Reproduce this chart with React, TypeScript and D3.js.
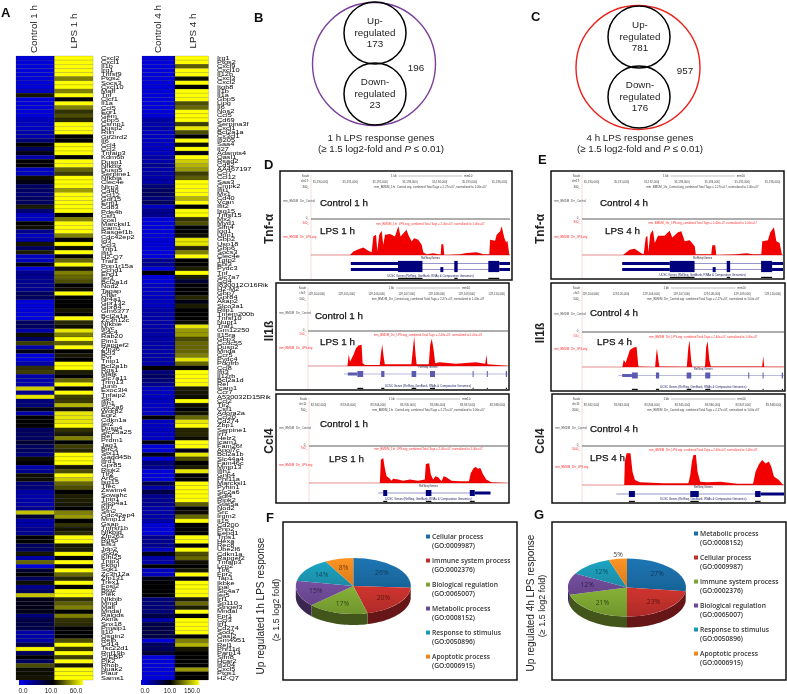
import * as d3 from "d3";

const FONT = "Liberation Sans, Arial, sans-serif";

// heatmap values, one per gene row
const control1h = [
  1,1,1,1,1,1,1,1,2,14, 1,1,1,1,1,2,2,2,3,3, 5,11,6,9,3,10,10,2,2,13, 9,6,6,5,6,6,15,5,2,2,
  10,13,4,2,3,14,6,15,2,2, 9,1,4,4,4,4,4,6,6,1, 1,1,1,1,6,6,3,13,6,22, 3,9,1,1,3,20,22,3,3,3,
  50,4,55,5,5,9,3,10,10,10, 6,6,6,8,6,6,5,13,10,3, 4,12,12,5,5,3,3,3,3,4, 48,8,3,3,4,4,11,11,6,6,
  14,3,30,1,8,11,6,13,4,6, 48,9,9,9,9,5,7,7,7,3, 3,3,7,58,6,10,6,25,12,12,14,
];
const lps1h = [
  60,60,60,60,60,35,60,60,35,60, 10,60,35,20,25,18,60,60,60,10, 10,60,60,60,10,60,60,30,22,60, 60,60,40,60,60,60,60,60,10,35,
  60,60,60,35,11,60,12,60,11,30, 60,14,35,30,25,11,13,60,10,11, 10,14,11,60,18,12,55,35,60,28, 60,10,14,10,60,60,16,10,30,60,
  10,60,22,22,45,14,55,55,55,60, 20,15,35,10,22,18,60,60,60,14, 25,60,50,30,25,11,16,16,14,10, 35,40,10,20,14,18,60,60,14,16,
  60,10,60,10,60,30,18,60,10,60, 60,20,28,35,10,35,20,18,10,10, 11,25,60,20,60,22,60,14,60,60,60,
];
const control4h = [
  1,1,1,1,1,1,1,1,1,1, 1,1,1,1,1,3,3,3,2,2, 2,2,2,2,3,3,4,3,3,3, 3,5,6,6,5,6,2,4,4,1,
  1,1,1,1,1,1,1,1,1,4, 4,1,10,1,1,2,2,2,2,2, 2,3,3,3,3,3,3,3,3,3, 3,3,3,3,3,12,5,6,5,4,
  2,2,2,2,2,2,2,12,2,2, 2,2,2,9,1,1,9,1,5,4, 1,1,1,7,3,7,4,4,4,3, 3,3,3,1,1,1,4,4,4,2,
  9,3,3,10,2,2,9,10,10,10, 10,5,5,5,5,7,3,7,7,7, 7,1,6,6,8,1,1,1,1,1,1,
];
const lps4h = [
  150,150,60,150,150,18,150,13,150,150, 150,52,66,150,150,150,44,136,52,10, 150,18,150,9,150,122,108,94,44,60, 150,150,150,150,108,150,10,150,150,38,
  52,10,10,16,136,136,32,80,150,13, 13,24,150,24,8,10,13,10,32,9, 27,10,10,10,16,136,94,94,52,66, 66,66,80,136,66,13,150,150,150,150,
  24,21,16,150,18,13,21,66,136,150, 32,32,16,150,150,9,136,52,10,24, 136,13,13,150,150,150,150,150,60,13, 16,66,150,10,10,10,150,150,10,150,
  52,66,18,10,21,150,10,150,150,150, 150,24,66,24,150,10,150,150,150,150, 10,80,108,21,13,10,13,13,94,10,10,
];

const genes1h = ["Cxcl2","Cxcl1","Il1b","Irg1","Tnfsf9","Ptgs2","Socs3","Cxcl10","Maff","Tnf","Clcf1","Il1a","Ccl5","Egr1","Gem","Gbp5","Csrnp1","Dusp2","Rtln","Gtf2ird2","Il6","Ccl4","Ccl2","Tnfaip3","Kdm6b","Dusp1","Nfkbiz","Dusp5","Serpine1","Nfkbia","Clec4e","Nlrp3","Cd40","Ccl12","Gdf15","Errfi1","Cd83","Pde4b","Csf1","Icosl","Marcksl1","Icam1","Rasgef1b","Cdc42ep2","Id3","Ccl3","Trib1","Ifit1","H2-Q7","Traf1","Ppp1r15a","Ccnd1","Ehd1","Ier3","Bcl2a1d","Nod2","Tagap","Cflar","Nr4a1","Gpr132","Gpr84","Gm6377","Bcl2a1a","Zc3h12c","Nfkbie","Myc","Sdc4","Rab20","Pim1","Rapgef2","Zfp36","Bcl3","Pvr","Tnip1","Bcl2a1b","Rgs1","Mafk","Slc7a11","Trim13","Junb","Exoc3l4","Tnfaip2","Ski","Ifih1","Slc2a6","Wdr82","Egr2","Cdkn1a","Ier2","Dusp4","Slc25a25","Rel","Prdm1","Jag1","Birc3","Stx11","Gadd45b","Ifrd1","Gpr85","Ripk2","Tlr2","Arl5c","Isg15","Tfec","Zswim4","Sowahc","Tnip1","Slco4a1","Klf7","Sfn2","Cdc42ep4","Mmp13","Gsap","Tnfrsf1b","Nfkbid","Zfp263","Rgs5","Efs3","Jdp2","Sod2","Klhl25","Tnip3","Fkbpl","Sgk1","Zc3h12a","Zfp131","Trex1","Fosl2","Btg2","Plek","Nfkbib","Mmd","Mafl","Mndal","Ralgds","Akna","Snx18","Pmaip1","Il10","Osgin2","Relb","Cd14","Tsc22d1","Rnf19b","C/EBP","Plk2","Rhob","Nuak2","Plaur","Sams1"];
const genes4h = ["Irg1","Ptgs2","Cxcl9","Cxcl10","Il12b","Cxcl3","Cxcl2","Itgb8","Il1b","Il1a","Gbp5","Lipg","Il6","Nos2","Ccl5","Cd69","Serpina3f","Cxcl1","Bcl2a1a","Cx3cl1","Ifi205","Saa4","Il27","Adamts4","Oasl1","Rsad2","Cd52","AA467197","Ccl7","Ccl12","Saa3","Cmpk2","Ifit1","Mx1","Cd40","Vcan","Ifit2","Isg15","Tnfsf15","Mx2","Myd1","Slfn4","Igg1","Upp1","Gbp2","Usp18","Gbp6","Socs3","Clec4e","Tgtp2","Ebi3","Pydc3","Tnf","Slc7a7","Ccl4","I830012O16Rik","H2-M2","Gbp7","Gpr84","Akap2","Slco3a1","Rilp1","Tmem200b","Tnfsf10","Nupr1","Traf1","Gm12250","Il15ra","Gbp3","Ccdc55","Dusp2","Mnda","Ccr5","Pydc4","Pdgfrb","Ccl8","Ifit3","Il12rb","Bcl2a1d","Rel","Icam1","Ccr7","A530032D15Rik","Ccl2","Tlr2","Csf1","Adora2a","Ccl20","Cd274","Zbp1","Serpine1","Irf7","Helz2","Icam1","Fam26f","Apol7c","Bcl2a1b","Slc44a4","Fam46c","Mmp13","Ifih1","Gnb4","Phf11a","Marcksl1","Pyhin1","Slc2a6","Sdf4","Ripk2","Stat5a","Nod2","Src","Irgm2","Il15","Cd200","Pnp2","Eepd1","Trps1","Hexa","Rec8","Ube2l6","Cdkn1a","Rapgef2","Tnfaip3","Lcp2","Tlr6","Fpr2","Tap1","Ikbke","Ipal","Slc4a7","Ier5","Irf1","Sp110","Stngef3","Mndal","Fpr1","Ccl3","Irf1","Cd274","Sod2","Oasl2","Gm4951","Rel1","Phf11d","Parp14","Slfn8","Hcar2","Ifi204","Cxcl5","Ptgs1","H2-Q7"];

const legend1h = [0, 10, 60];
const legend4h = [0, 10, 150];

// pie slices
const pieNames1h = ["Cellular process","Immune system process","Biological regulation","Metabolic process","Response to stimulus","Apoptotic process"];
const pieIds1h = ["GO:0009987","GO:0002376","GO:0065007","GO:0008152","GO:0050896","GO:0006915"];
const pieValues1h = [26, 20, 17, 15, 14, 8];
const pieNames4h = ["Metabolic process","Cellular process","Immune system process","Biological regulation","Response to stimulus","Apoptotic process"];
const pieIds4h = ["GO:0008152","GO:0009987","GO:0002376","GO:0065007","GO:0050896","GO:0006915"];
const pieValues4h = [27, 23, 21, 12, 12, 5];
const pieColors = ["#1b6ea8", "#c2302c", "#7da632", "#6f4b97", "#1d9ab6", "#ef8a20"];
const pieTextColors = ["#12395c", "#5e1512", "#2f4a10", "#33204e", "#0b4f60", "#7a3f08"];

// read-coverage tracks: [position along the window, height]
const tnf1h: [number, number][] = [[19.6,0],[21.3,32],[23.8,54],[26.3,70],[28.8,41],[30.5,25],[31.3,174],[32.7,190],[33.3,32],[34.3,190],[35.5,228],[36.3,95],[37.2,190],[39.7,196],[42.2,174],[43.9,269],[45,174],[48,237],[48.9,190],[50.6,126],[51.8,158],[53.9,142],[55.6,95],[56.4,25],[58.1,6],[61.5,16],[64,6],[65.2,6],[65.5,101],[66.5,101],[67,0],[74.9,6],[78.2,19],[83.3,25],[86.6,6],[89.6,6],[90,142],[92.5,133],[93.3,190],[95,221],[95.8,269],[97.2,158],[98,120],[98.7,133],[99.7,0]];
const tnf4h: [number, number][] = [[20.4,0],[23.7,47],[26.2,57],[29.5,16],[30.7,6],[31.7,158],[32.5,174],[33,25],[34,190],[35.3,228],[36.2,110],[37.8,174],[41.1,174],[43.6,221],[44.9,158],[47.8,206],[49.4,215],[51.1,126],[53.6,133],[56.1,79],[56.6,6],[64.3,6],[64.8,88],[66.3,88],[66.8,0],[76.8,6],[81.8,16],[85.1,6],[89.2,6],[89.7,126],[92.5,133],[93.7,206],[95.5,253],[96.7,126],[98.3,110],[99.5,0]];
const il1b1h: [number, number][] = [[19.7,0],[20.4,110],[21,41],[22.7,104],[24,167],[25.2,193],[26.8,199],[27.3,25],[28.5,9],[35.9,9],[36.4,104],[37.1,205],[37.7,104],[38.4,16],[40.9,16],[51.7,16],[52.5,167],[53.1,278],[53.8,104],[54.3,16],[60.4,16],[61.1,199],[61.9,256],[62.7,167],[63.6,25],[65.7,35],[74,22],[83.9,35],[88.6,22],[89.2,104],[89.7,16],[99.7,3]];
const il1b4h: [number, number][] = [[20,0],[20.7,69],[21.6,38],[22.9,117],[23.7,164],[25.4,186],[27,196],[27.9,6],[36.2,0],[36.7,117],[37.1,180],[37.8,69],[38.3,6],[51.9,3],[52.6,180],[53.2,259],[54.1,54],[54.6,3],[60.9,3],[61.5,196],[62.2,250],[63,69],[63.8,6],[73.5,6],[89.2,6],[89.7,107],[90.2,3],[99.7,3]];
const ccl41h: [number, number][] = [[35.6,0],[36.1,200],[37.3,215],[38.1,129],[39,57],[40.3,43],[41.5,20],[42.3,37],[44.8,29],[47.3,20],[50.7,29],[54.8,20],[58.2,29],[58.7,163],[60.4,169],[61.2,72],[62.4,29],[63.5,57],[64.9,49],[66.6,14],[67.7,57],[69,49],[71.6,20],[75.8,14],[80.4,14],[81.3,86],[82.8,129],[83.8,137],[84.9,123],[86.1,129],[87.5,72],[89.1,29],[91.6,6],[100,0]];
const ccl44h: [number, number][] = [[20.9,0],[21.2,195],[22.1,264],[24,264],[25,111],[26.2,42],[28.7,22],[40.3,14],[52.7,14],[53.6,83],[54.4,195],[55.2,250],[56.4,250],[57.2,111],[58.5,28],[61.9,22],[68.5,28],[76.8,11],[84.7,11],[85.9,111],[87.6,172],[89.2,208],[90.9,180],[92.5,195],[93.7,153],[95,70],[97.5,42],[99.2,6],[100,0]];

// gene models on the same position scale
type Model = { line: [number, number]; thick: [number, number][]; exons: [number, number][]; tiny?: [number, number][]; double?: boolean; color: string };
const tnfModel: Model = { line: [20, 100], thick: [[20,43.7],[94.6,100]], exons: [[43.7,56],[72,73.7],[89.1,94.6]], tiny: [[65,66.5]], double: true, color: "#00007c" };
const il1bModel: Model = { line: [18, 100], thick: [[19.9,24.7]], exons: [[24.7,27.6],[36.6,38.2],[51.8,54.1],[61,63.5],[82.3,82.8],[89.4,89.9],[98.9,99.5]], color: "#5a5ab0" };
const ccl4Model1h: Model = { line: [34.8, 91.2], thick: [[83.3,91.2]], exons: [[37.3,39.3],[58.7,61.5],[80.8,83.3]], color: "#00007c" };
const ccl4Model4h: Model = { line: [17, 100], thick: [[88.4,100]], exons: [[23.2,26.2],[53.6,57.8],[85.7,88.4]], color: "#00007c" };

const tickTnf = ["35,190,000","35,191,000","35,192,000","35,193,000","35,194,000","35,195,000","35,196,000"];
const tickIl1b = ["129,104,000","129,105,000","129,106,000","129,107,000","129,108,000","129,109,000","129,110,000"];
const tickCcl4 = ["83,942,000","83,943,000","83,944,000","83,945,000","83,946,000","83,947,000","83,948,000"];

type Panel = {
  box: [number, number, number, number]; axis: number; right: number; divider: number; top: number; base: number;
  ctrl: string; ctrlXY: [number, number]; lps: string; lpsXY: [number, number]; track: [number, number][]; model: Model; modelY: number;
  ticks: string[]; chr: string; max: string;
};
const panels: Panel[] = [
  { box: [280,171,512,280], axis: 311, right: 510, divider: 219, top: 223, base: 255, ctrl: "Control 1 h", ctrlXY: [320,206], lps: "LPS 1 h", lpsXY: [320,234], track: tnf1h, model: tnfModel, modelY: 266.5, ticks: tickTnf, chr: "chr17:", max: "300_" },
  { box: [276,283,509,390], axis: 308, right: 508, divider: 331, top: 334, base: 366, ctrl: "Control 1 h", ctrlXY: [315,319], lps: "LPS 1 h", lpsXY: [320,345], track: il1b1h, model: il1bModel, modelY: 374, ticks: tickIl1b, chr: "chr2:", max: "500_" },
  { box: [276,394,509,503], axis: 309, right: 508, divider: 446, top: 448, base: 483, ctrl: "Control 1 h", ctrlXY: [320,427], lps: "LPS 1 h", lpsXY: [329,462], track: ccl41h, model: ccl4Model1h, modelY: 493, ticks: tickCcl4, chr: "chr11:", max: "700_" },
  { box: [551,171,784,279], axis: 582, right: 783, divider: 219, top: 222, base: 255, ctrl: "Control 4 h", ctrlXY: [600,206], lps: "LPS 4 h", lpsXY: [605,234], track: tnf4h, model: tnfModel, modelY: 266.5, ticks: tickTnf, chr: "chr17:", max: "300_" },
  { box: [551,283,785,391], axis: 582, right: 784, divider: 332, top: 336, base: 367, ctrl: "Control 4 h", ctrlXY: [590,316], lps: "LPS 4 h", lpsXY: [597,345], track: il1b4h, model: il1bModel, modelY: 375.5, ticks: tickIl1b, chr: "chr2:", max: "500_" },
  { box: [552,394,785,503], axis: 582, right: 784, divider: 446, top: 449, base: 485, ctrl: "Control 4 h", ctrlXY: [590,432], lps: "LPS 4 h", lpsXY: [590,461], track: ccl44h, model: ccl4Model4h, modelY: 494, ticks: tickCcl4, chr: "chr11:", max: "2000_" },
];

function Heatmap({ x0, x1, x2, a, b, max, labels, labelX, ax }: any) {
  const rows = d3.scaleBand<number>().domain(d3.range(a.length)).range([56, 680]);
  const color = d3.scaleLinear<string>().domain([0, 10, max]).range(["#0000f0", "#000000", "#ffff00"]).clamp(true);
  const lab = d3.scalePoint<number>().domain(d3.range(labels.length)).range([58, 678]);
  const cols = [{ v: a, l: x0, r: x1 }, { v: b, l: x1, r: x2 }];
  return (
    <g>
      {cols.map((c, j) =>
        c.v.map((v: number, i: number) => (
          <rect key={`${j}-${i}`} x={c.l} y={rows(i)} width={c.r - c.l} height={rows.bandwidth()} fill={color(v)} stroke="#000" strokeOpacity={0.28} strokeWidth={0.5} />
        ))
      )}
      {labels.map((t: string, i: number) => (
        <text key={i} transform={`translate(${labelX},${lab(i)! + 1.6}) scale(1,0.62)`} fontSize={7.4} fontFamily={FONT} fill="#000">{t}</text>
      ))}
      <ColorKey {...ax} max={max} color={color} />
    </g>
  );
}

function ColorKey({ id, left, mid, right, textX, max, values, color }: any) {
  return (
    <g>
      <defs>
        <linearGradient id={id}>
          <stop offset="0" stopColor={color(0)} />
          <stop offset={(mid - left) / (right - left)} stopColor={color(10)} />
          <stop offset="1" stopColor={color(max)} />
        </linearGradient>
      </defs>
      <rect x={left} y={680} width={right - left} height={5} fill={`url(#${id})`} />
      {values.map((v: number, i: number) => (
        <text key={v} x={textX[i]} y={693} fontSize={6.4} fontFamily={FONT} textAnchor="middle" fill="#222">{v.toFixed(1)}</text>
      ))}
    </g>
  );
}

function Venn({ cx, outer, cx2, topY, botY, color, up, down, total, totalX, caption, textX, capX }: any) {
  const line = (t: string, x: number, y: number, k: string) => (
    <text key={k} x={x} y={y} fontSize={9.8} fontFamily={FONT} textAnchor="middle" fill="#222">{t}</text>
  );
  return (
    <g>
      <circle cx={cx} cy={(topY + botY) / 2 + 0.5} r={outer} fill="none" stroke={color} strokeWidth={1.4} />
      <circle cx={cx2} cy={topY} r={31} fill="none" stroke="#000" strokeWidth={1.5} />
      <circle cx={cx2} cy={botY} r={31} fill="none" stroke="#000" strokeWidth={1.5} />
      {line("Up-", textX, topY - 9, "a")}
      {line("regulated", textX, topY + 2.5, "b")}
      {line(up, textX, topY + 14, "c")}
      {line("Down-", textX, botY - 9, "d")}
      {line("regulated", textX, botY + 2.5, "e")}
      {line(down, textX, botY + 14, "f")}
      {line(total, totalX, (topY + botY) / 2 + 7, "g")}
      <text x={capX} y={141} fontSize={9.75} fontFamily={FONT} textAnchor="middle" fill="#222">{caption}</text>
      <text x={capX} y={152} fontSize={9.75} fontFamily={FONT} textAnchor="middle" fill="#222">
        (≥ 1.5 log2-fold and <tspan fontStyle="italic">P</tspan> ≤ 0.01)
      </text>
    </g>
  );
}

function TrackPanel({ p }: { p: Panel }) {
  const [x0, y0, x1, y1] = p.box;
  const x = d3.scaleLinear().domain([0, 100]).range([p.axis, p.right]);
  const y = d3.scaleLinear().domain([0, 300]).range([p.base, p.top]);
  const area = d3.area<[number, number]>().x((d) => x(d[0])).y0(p.base).y1((d) => y(d[1]));
  const ticks = d3.scalePoint<string>().domain(p.ticks).range([p.axis + 18, p.right - 2]);
  const m = p.model;
  const rowsY = m.double ? [p.modelY - 3, p.modelY + 3] : [p.modelY];
  const mini = { fontFamily: "Liberation Sans Narrow, Liberation Sans, sans-serif", fontSize: 2.9 };
  const big = { fontSize: 9.8, fontFamily: FONT, fill: "#111", stroke: "#111", strokeWidth: 0.25 };
  return (
    <g>
      <rect x={x0} y={y0} width={x1 - x0} height={y1 - y0} fill="#fff" stroke="#111" strokeWidth={1.5} />
      <line x1={p.axis} x2={p.axis} y1={y0 + 4} y2={y1 - 1} stroke="#f3b4b4" strokeWidth={0.5} />
      <text x={p.axis - 2} y={y0 + 6} textAnchor="end" {...mini} fill="#333">Scale</text>
      <text x={p.axis - 2} y={y0 + 11} textAnchor="end" {...mini} fill="#333">{p.chr}</text>
      <text x={p.axis - 2} y={y0 + 17} textAnchor="end" {...mini} fill="#333">{p.max}</text>
      <line x1={x(44)} x2={x(76)} y1={y0 + 5} y2={y0 + 5} stroke="#555" strokeWidth={0.4} />
      <text x={x(43)} y={y0 + 6} textAnchor="end" {...mini} fill="#333">1 kb</text>
      <text x={x(77)} y={y0 + 6} {...mini} fill="#333">mm10</text>
      {p.ticks.map((t) => (
        <text key={t} x={ticks(t)! - 1} y={y0 + 12} textAnchor="end" {...mini} fill="#444">{t}|</text>
      ))}
      <text x={x(60)} y={y0 + 17} textAnchor="middle" {...mini} fill="#444">mm_BMDM_1hr_Control.wig_combined Total Tags = 2.27e+07, normalized to 1.00e+07</text>
      <text x={x0 + 3} y={p.divider - 17} {...mini} fill="#555">mm_BMDM_1hr_Control</text>
      <text x={p.ctrlXY[0]} y={p.ctrlXY[1]} {...big}>{p.ctrl}</text>
      <text x={p.axis - 2} y={p.divider} textAnchor="end" {...mini} fill="#444">0_</text>
      <line x1={p.axis} x2={p.right} y1={p.divider} y2={p.divider} stroke="#333" strokeWidth={0.8} />
      <text x={p.axis - 2} y={p.top + 1} textAnchor="end" {...mini} fill="#f33">{p.max}</text>
      <text x={x(60)} y={p.top + 2} textAnchor="middle" {...mini} fill="#f33">mm_BMDM_1hr_LPS.wig_combined Total Tags = 2.40e+07, normalized to 1.00e+07</text>
      <text x={x0 + 3} y={p.base - 17} {...mini} fill="#f33">mm_BMDM_1hr_LPS.wig</text>
      <path d={area(p.track) ?? ""} fill="#f20000" />
      <line x1={p.axis} x2={p.right} y1={p.base} y2={p.base} stroke="#c01a1a" strokeWidth={0.5} />
      <text x={p.lpsXY[0]} y={p.lpsXY[1]} {...big}>{p.lps}</text>
      <text x={x(60)} y={p.modelY - (m.double ? 7.5 : 6)} textAnchor="middle" {...mini} fill="#224">RefSeq Genes</text>
      {rowsY.map((ry) => (
        <g key={ry}>
          <line x1={x(m.line[0])} x2={x(m.line[1])} y1={ry} y2={ry} stroke={m.color} strokeOpacity={0.7} strokeWidth={0.6} />
          {m.thick.map((t) => (
            <rect key={t[0]} x={x(t[0])} y={ry - 1.5} width={x(t[1]) - x(t[0])} height={3} fill={m.color} />
          ))}
        </g>
      ))}
      {m.exons.map((t) => (
        <rect key={t[0]} x={x(t[0])} y={p.modelY - (m.double ? 5.6 : 3)} width={x(t[1]) - x(t[0])} height={m.double ? 11.2 : 6} fill={m.color} />
      ))}
      {(m.tiny ?? []).map((t) => (
        <rect key={t[0]} x={x(t[0])} y={p.modelY + 0.6} width={x(t[1]) - x(t[0])} height={5} fill={m.color} />
      ))}
      <text x={x(60)} y={y1 - 3.5} textAnchor="middle" {...mini} fill="#226">UCSC Genes (RefSeq, GenBank, RNAs &amp; Comparative Genomics)</text>
      {m.exons.map((t) => (
        <rect key={`u${t[0]}`} x={x(t[0])} y={y1 - 2.2} width={Math.max(x(t[1]) - x(t[0]), 1)} height={1.2} fill="#111" />
      ))}
    </g>
  );
}

function Pie3D({ id, box, cx, cy, rx, ry, depth, values, names, ids, legendX, legendY, outerLabel }: any) {
  const slices = d3.pie<number>().sort(null)(values);
  const arc = d3.arc<d3.PieArcDatum<number>>().innerRadius(0).outerRadius(1);
  const labelArc = d3.arc<d3.PieArcDatum<number>>().innerRadius(0.68).outerRadius(0.68);
  const rim = (a0: number, a1: number) => {
    const s = Math.max(a0, Math.PI / 2);
    const e = Math.min(a1, (3 * Math.PI) / 2);
    if (s >= e) return null;
    const step = (e - s) / 24;
    const ang = d3.range(s, e + step / 2, step);
    const pts = ang.map((a) => [cx + rx * Math.sin(a), cy - ry * Math.cos(a)] as [number, number]);
    const low = ang.slice().reverse().map((a) => [cx + rx * Math.sin(a), cy - ry * Math.cos(a) + depth] as [number, number]);
    return d3.line()([...pts, ...low]) + "Z";
  };
  const legendFont = { fontSize: 6.7, fontWeight: 600, fontFamily: "Open Sans, sans-serif", fill: "#333" };
  return (
    <g>
      <rect x={box[0]} y={box[1]} width={box[2] - box[0]} height={box[3] - box[1]} fill="#fff" stroke="#111" strokeWidth={1.5} />
      <defs>
        {pieColors.map((c, i) => (
          <linearGradient key={c} id={`${id}g${i}`} x1="0" y1="0" x2="0" y2="1">
            <stop offset="0" stopColor={d3.color(c)!.brighter(0.2).formatHex()} />
            <stop offset="1" stopColor={d3.color(c)!.darker(0.3).formatHex()} />
          </linearGradient>
        ))}
      </defs>
      {slices.map((s, i) => {
        const d = rim(s.startAngle, s.endAngle);
        return d ? <path key={i} d={d} fill={d3.color(pieColors[i])!.darker(1.8).formatHex()} /> : null;
      })}
      <g transform={`translate(${cx},${cy}) scale(${rx},${ry})`}>
        {slices.map((s, i) => (
          <path key={i} d={arc(s) ?? ""} fill={`url(#${id}g${i})`} />
        ))}
      </g>
      {slices.map((s, i) => {
        const [lx, ly] = labelArc.centroid(s);
        const out = outerLabel === i;
        return (
          <text key={i} x={cx + lx * (out ? 1.43 : 1) * rx} y={cy + ly * (out ? 1.67 : 1) * ry + 2} fontSize={6.8} fontFamily="Open Sans, sans-serif" textAnchor="middle" fill={out ? "#444" : pieTextColors[i]}>{s.data}%</text>
        );
      })}
      {names.map((n: string, i: number) => (
        <g key={n}>
          <rect x={legendX - 6} y={legendY + i * 24 - 4} width={4} height={4} fill={`url(#${id}g${i})`} />
          <text x={legendX} y={legendY + i * 24} {...legendFont}>{n}</text>
          <text x={legendX} y={legendY + i * 24 + 9.3} {...legendFont}>({ids[i]})</text>
        </g>
      ))}
    </g>
  );
}

const Letter = ({ x, y, t }: { x: number; y: number; t: string }) => (
  <text x={x} y={y} fontSize={13} fontWeight={700} fontFamily={FONT} fill="#111">{t}</text>
);

const Vertical = ({ x, y, t, size = 9.8, weight = 400 }: any) => (
  <text transform={`translate(${x},${y}) rotate(-90)`} fontSize={size} fontWeight={weight} fontFamily={FONT} textAnchor="middle" fill="#222">{t}</text>
);

export default function App() {
  return (
    <svg width={787} height={694} style={{ position: "absolute", left: 0, top: 0, background: "#fff" }}>
      <defs>
        {/* the source figure is a soft, resampled image */}
        <filter id="soft" filterUnits="userSpaceOnUse" x={0} y={0} width={787} height={694}>
          <feGaussianBlur stdDeviation={0.3} />
        </filter>
      </defs>
      <g filter="url(#soft)">
        <rect width={787} height={694} fill="#fff" />
        <Letter x={1} y={17} t="A" />
        <Vertical x={36.5} y={29} t="Control 1 h" />
        <Vertical x={76.5} y={31} t="LPS 1 h" />
        <Vertical x={160.5} y={29} t="Control 4 h" />
        <Vertical x={195.5} y={31} t="LPS 4 h" />
        <Heatmap x0={16} x1={54.5} x2={93} a={control1h} b={lps1h} max={60} labels={genes1h} labelX={101}
          ax={{ id: "key1", left: 19, mid: 53, right: 83, textX: [23, 51, 76], values: legend1h }} />
        <Heatmap x0={142} x1={175} x2={208.5} a={control4h} b={lps4h} max={150} labels={genes4h} labelX={217}
          ax={{ id: "key4", left: 141, mid: 170, right: 199, textX: [145, 170, 192], values: legend4h }} />

        <Letter x={254} y={22} t="B" />
        <Venn cx={374} outer={61.5} cx2={375} topY={33} botY={94} color="#7a3f9a" up="173" down="23" total="196" totalX={416} caption="1 h LPS response genes" textX={375} capX={381} />
        <Letter x={531} y={21} t="C" />
        <Venn cx={638} outer={62} cx2={639} topY={37} botY={97} color="#e8201c" up="781" down="176" total="957" totalX={685} caption="4 h LPS response genes" textX={640} capX={640} />

        <Letter x={264} y={169} t="D" />
        <Letter x={538} y={164} t="E" />
        {panels.map((p, i) => (
          <TrackPanel key={i} p={p} />
        ))}
        <Vertical x={273} y={229} t="Tnf-α" size={12} weight={700} />
        <Vertical x={273} y={331} t="Il1ß" size={12} weight={700} />
        <Vertical x={273} y={441} t="Ccl4" size={12} weight={700} />
        <Vertical x={544} y={229} t="Tnf-α" size={12} weight={700} />
        <Vertical x={544} y={333} t="Il1ß" size={12} weight={700} />
        <Vertical x={544} y={441} t="Ccl4" size={12} weight={700} />

        <Letter x={266} y={522} t="F" />
        <Vertical x={264} y={606} t="Up regulated 1h LPS response" size={10} />
        <Vertical x={279} y={610} t="(≥ 1.5 log2 fold)" size={9} />
        <Pie3D id="pf" box={[283, 522, 517, 680]} cx={353.3} cy={586} rx={57.5} ry={28} depth={11} values={pieValues1h} names={pieNames1h} ids={pieIds1h} legendX={432} legendY={538.5} />

        <Letter x={534} y={519} t="G" />
        <Vertical x={534} y={603} t="Up regulated 4h LPS response" size={10} />
        <Vertical x={544.5} y={606} t="(≥ 1.5 log2 fold)" size={9} />
        <Pie3D id="pg" box={[552, 522, 786, 680]} cx={627} cy={587.5} rx={59} ry={29} depth={11} values={pieValues4h} names={pieNames4h} ids={pieIds4h} legendX={700} legendY={535.5} outerLabel={5} />
      </g>
    </svg>
  );
}
